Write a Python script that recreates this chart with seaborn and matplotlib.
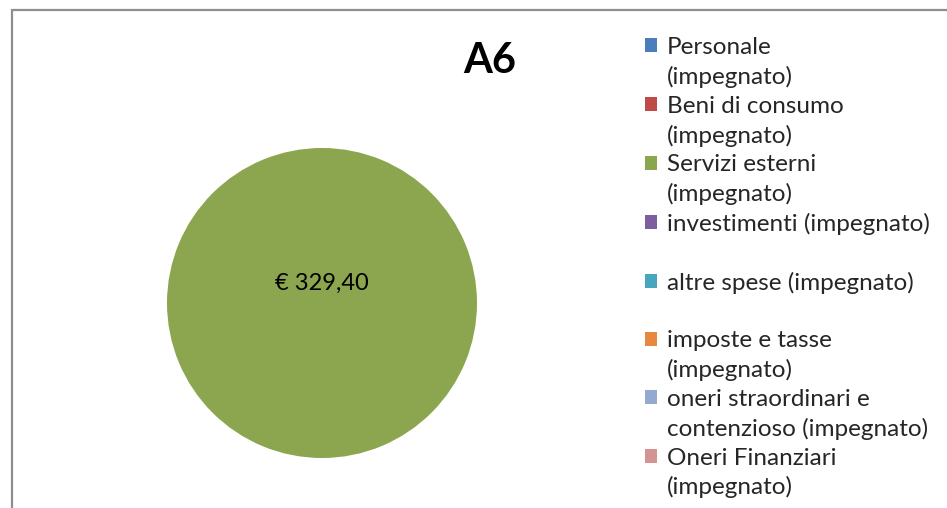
import matplotlib
matplotlib.use("Agg")
import matplotlib.pyplot as plt
from matplotlib.patches import Patch, Rectangle
import seaborn as sns

# ---- data ----
categories = [
    "Personale\n(impegnato)",
    "Beni di consumo\n(impegnato)",
    "Servizi esterni\n(impegnato)",
    "investimenti (impegnato)",
    "altre spese (impegnato)",
    "imposte e tasse\n(impegnato)",
    "oneri straordinari e\ncontenzioso (impegnato)",
    "Oneri Finanziari\n(impegnato)",
]
values = [0.0, 0.0, 329.40, 0.0, 0.0, 0.0, 0.0, 0.0]
colors = ["#4A7EBB", "#BE4B48", "#8BA64F", "#7D5FA0",
          "#46A5BF", "#E6883F", "#93A9D0", "#D39494"]
title = "A6"

sns.set_theme(style="white")
plt.rcParams["font.family"] = ["Lato", "DejaVu Sans"]
palette = sns.color_palette(colors)

W, H = 947, 508
fig = plt.figure(figsize=(W / 100, H / 100), dpi=100)
fig.patch.set_facecolor("white")

# outer chart border (only top/left visible in the crop)
fig.patches.append(Rectangle((12 / W, -0.2), 1.5, 498 / H + 0.2,
                             transform=fig.transFigure, fill=False,
                             edgecolor="#8E8E8E", linewidth=1.6))

# pie axes
cx, cy, r = 322, 303, 155
ax = fig.add_axes([(cx - r) / W, (H - cy - r) / H, 2 * r / W, 2 * r / H])


def fmt(p):
    v = p * sum(values) / 100.0
    if v <= 0:
        return ""
    return "€ " + f"{v:.2f}".replace(".", ",")


wedges, texts, autotexts = ax.pie(
    values, colors=palette, startangle=-90, counterclock=True,
    autopct=fmt, pctdistance=0.13, radius=1.0,
    wedgeprops=dict(linewidth=0),
    textprops=dict(fontsize=17, color="black"),
)
ax.set_xlim(-1, 1)
ax.set_ylim(-1, 1)
ax.set_aspect("equal")
ax.axis("off")

fig.text(490 / W, 1 - 61 / H, title, ha="center", va="center",
         fontsize=30, fontweight="bold", color="black")

# legend: one row per text line, marker on the first line of each entry
handles, labels = [], []
for lab, col in zip(categories, palette):
    lines = lab.split("\n")
    if len(lines) == 1:
        lines.append(" ")
    for i, ln in enumerate(lines):
        if i == 0:
            handles.append(Patch(facecolor=col, edgecolor="none"))
        else:
            handles.append(Patch(facecolor="none", edgecolor="none"))
        labels.append(ln)

fig.legend(handles, labels, loc="upper left",
           bbox_to_anchor=(645 / W, 1 - 37 / H),
           frameon=False, fontsize=17.5, handlelength=0.5, handleheight=0.5,
           handletextpad=0.4, labelspacing=0.32, borderpad=0, borderaxespad=0)

fig.savefig("out.png", dpi=100, facecolor="white")
